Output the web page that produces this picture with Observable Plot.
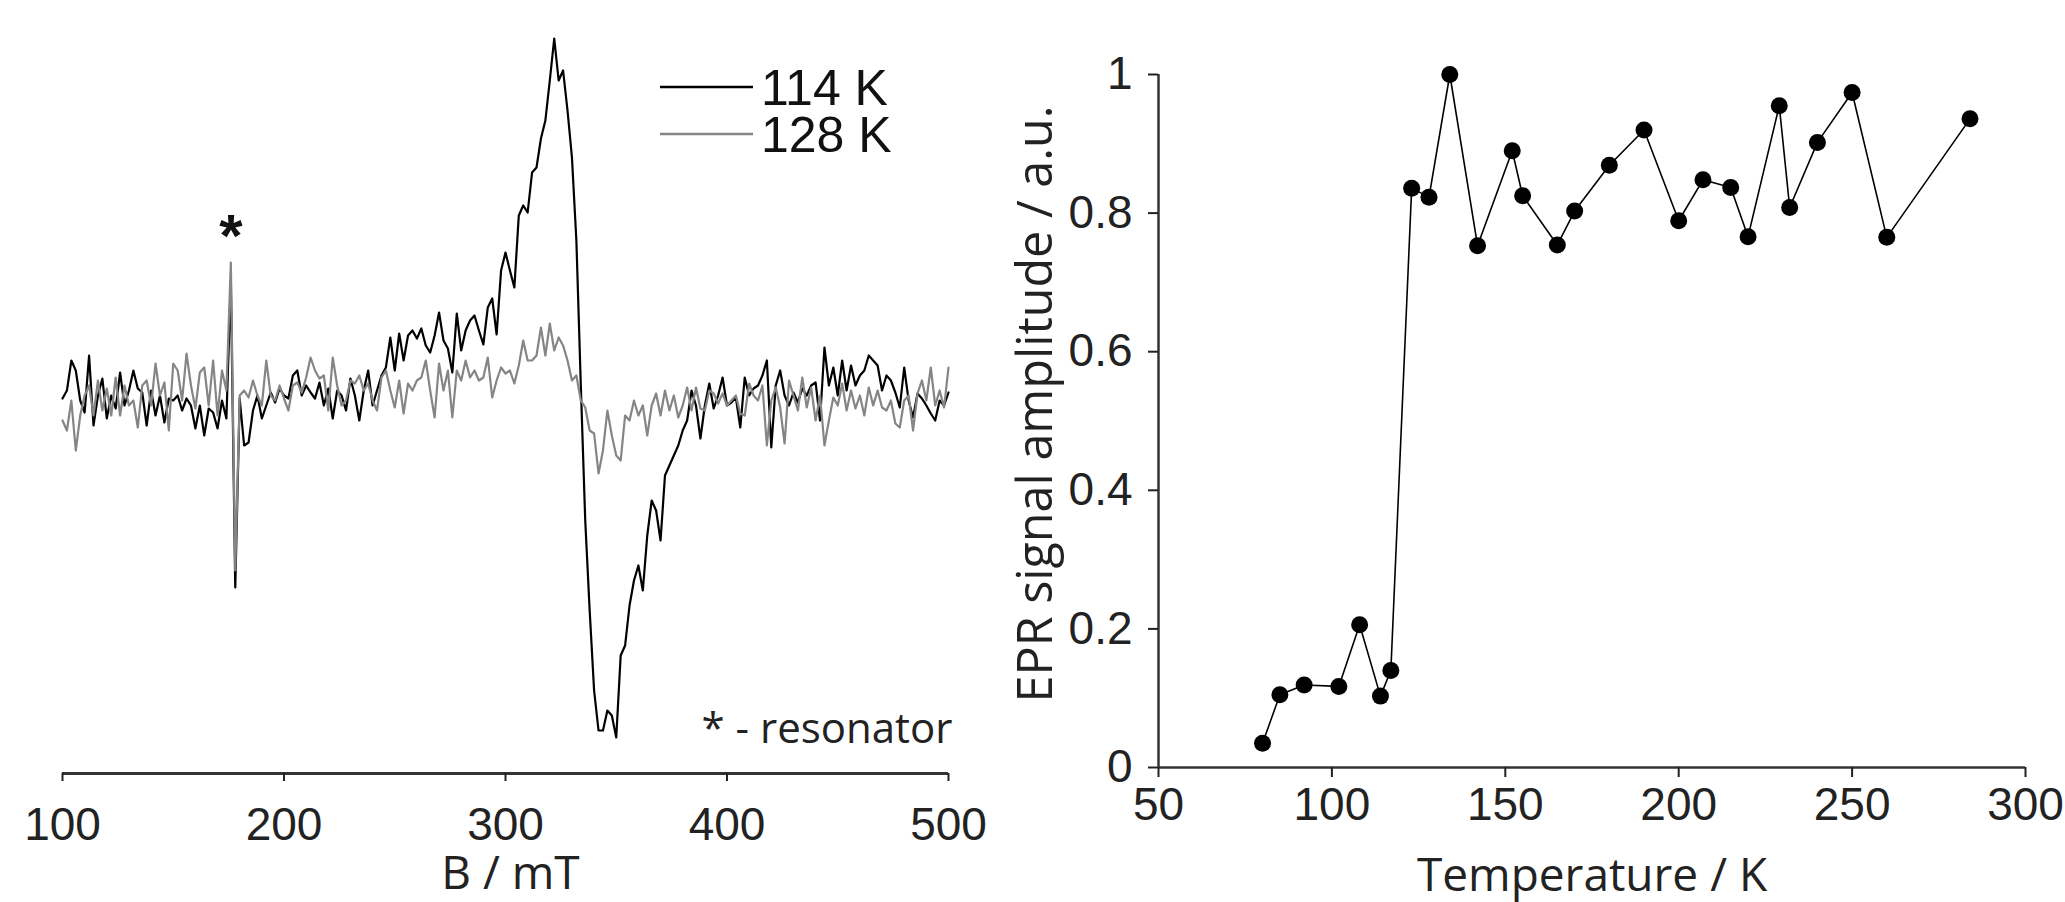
<!DOCTYPE html>
<html><head><meta charset="utf-8">
<script src="https://cdn.jsdelivr.net/npm/d3@7"></script>
<script src="https://cdn.jsdelivr.net/npm/@observablehq/plot@0.6"></script>
<style>
html,body{margin:0;padding:0;background:#fff;}
#wrap{position:relative;width:2065px;height:902px;overflow:hidden;background:#fff;}
.panel{position:absolute;top:0;}
</style></head><body>
<div id="wrap">
  <div id="left" class="panel" style="left:0px"></div>
  <div id="right" class="panel" style="left:1000px"></div>
  <div id="legend" class="panel" style="left:660px;top:60px"></div>
</div>
<script>
// ---------- Left panel: EPR spectra (B / mT) ----------
const fieldStart = 100, fieldStep = 2;
const fieldTicks = [100, 200, 300, 400, 500];
const signal114 = [
  0.02, 0.10, 0.40, 0.30, 0.00, -0.12, 0.45, -0.25, 0.05, 0.22,
  -0.18, 0.05, -0.08, 0.28, -0.05, 0.10, 0.30, 0.12, 0.08, -0.25,
  0.10, -0.15, 0.05, -0.22, 0.02, 0.00, 0.05, -0.10, 0.02, -0.05,
  -0.28, -0.05, -0.35, -0.08, -0.12, -0.28, 0.00, -0.18, 1.20, -1.87,
  0.02, -0.45, -0.42, -0.10, 0.05, -0.18, -0.05, 0.08, -0.02, 0.12,
  0.05, 0.02, 0.25, 0.30, 0.05, 0.15, 0.08, 0.02, 0.18, -0.05,
  0.12, -0.18, 0.10, 0.05, -0.10, 0.22, 0.05, -0.20, 0.10, 0.30,
  -0.05, 0.10, 0.25, 0.33, 0.63, 0.30, 0.67, 0.40, 0.65, 0.70,
  0.62, 0.72, 0.55, 0.48, 0.65, 0.88, 0.60, 0.52, 0.28, 0.87,
  0.50, 0.70, 0.80, 0.85, 0.70, 0.56, 0.93, 1.02, 0.66, 1.30,
  1.48, 1.30, 1.13, 1.85, 1.95, 1.88, 2.28, 2.33, 2.62, 2.80,
  3.20, 3.62, 3.20, 3.30, 2.90, 2.43, 1.60, 0.15, -1.20, -2.10,
  -2.90, -3.30, -3.30, -3.10, -3.15, -3.37, -2.55, -2.45, -2.05, -1.80,
  -1.65, -1.90, -1.35, -1.00, -1.10, -1.40, -0.75, -0.65, -0.55, -0.45,
  -0.30, -0.20, 0.10, -0.05, -0.38, -0.05, 0.17, -0.08, 0.05, 0.23,
  -0.05, -0.02, 0.03, -0.27, 0.23, 0.05, 0.12, 0.15, 0.25, 0.40,
  -0.47, 0.15, 0.30, 0.05, -0.05, 0.08, -0.02, 0.12, 0.05, 0.15,
  0.18, -0.20, 0.53, 0.15, 0.33, 0.05, 0.40, 0.10, 0.35, 0.15,
  0.25, 0.30, 0.45, 0.40, 0.35, 0.10, 0.25, 0.20, 0.08, -0.07,
  0.33, 0.00, -0.17, 0.07, 0.02, -0.05, -0.13, -0.20, 0.00, -0.05,
  0.08
];
const signal128 = [
  -0.20, -0.30, 0.00, -0.50, -0.15, 0.05, 0.15, -0.15, 0.20, -0.10,
  0.12, -0.15, 0.23, -0.15, 0.15, -0.05, 0.00, -0.27, 0.15, 0.20,
  -0.05, 0.37, 0.05, 0.18, -0.30, 0.37, 0.30, 0.00, 0.47, 0.15,
  -0.08, 0.28, 0.33, -0.05, 0.40, -0.15, 0.30, 0.10, 1.38, -1.70,
  0.05, 0.10, 0.03, 0.20, 0.05, -0.05, 0.40, 0.05, 0.00, 0.15,
  0.02, -0.10, 0.15, 0.18, 0.08, 0.23, 0.43, 0.30, 0.22, 0.25,
  -0.10, 0.43, 0.15, -0.05, 0.00, 0.20, 0.17, 0.25, 0.10, 0.17,
  0.00, -0.10, 0.23, 0.30, 0.10, -0.07, 0.20, -0.13, 0.17, 0.10,
  0.20, 0.23, 0.40, 0.10, -0.17, 0.37, 0.10, 0.30, -0.17, 0.30,
  0.20, 0.40, 0.23, 0.30, 0.20, 0.23, 0.43, 0.03, 0.20, 0.33,
  0.27, 0.30, 0.17, 0.35, 0.60, 0.40, 0.40, 0.45, 0.73, 0.45,
  0.77, 0.50, 0.63, 0.55, 0.40, 0.20, 0.25, 0.00, -0.07, -0.30,
  -0.33, -0.73, -0.50, -0.10, -0.35, -0.55, -0.60, -0.15, -0.20, 0.00,
  -0.15, -0.05, -0.35, -0.05, 0.07, -0.15, 0.10, -0.10, 0.05, -0.17,
  -0.05, 0.13, -0.10, 0.13, -0.08, -0.10, 0.10, 0.07, -0.03, 0.07,
  -0.05, 0.00, 0.05, -0.13, -0.15, 0.17, 0.05, 0.00, 0.15, -0.45,
  0.00, 0.13, -0.07, -0.43, 0.20, 0.05, -0.10, 0.23, -0.07, 0.13,
  -0.20, 0.05, -0.45, -0.20, 0.03, -0.05, 0.17, -0.10, 0.10, -0.08,
  0.05, -0.15, 0.13, -0.05, 0.10, -0.07, -0.10, 0.00, -0.23, -0.27,
  0.00, 0.05, -0.30, 0.07, 0.20, 0.00, 0.33, -0.05, 0.10, -0.07,
  0.33
];
const seriesLabels = ["114 K", "128 K"];
const seriesColors = ["#000000", "#858585"];
const resonatorField = 176;
const resonatorNote = "* - resonator";
const fieldTitle = "B / mT";

// ---------- Right panel: amplitude vs temperature ----------
const temperature = [80, 85, 92, 102, 108, 114, 117, 123, 128, 134, 142, 152, 155, 165, 170, 180, 190, 200, 207, 215, 220, 229, 232, 240, 250, 260, 284];
const amplitude = [0.035, 0.105, 0.119, 0.117, 0.206, 0.103, 0.140, 0.836, 0.823, 1.000, 0.753, 0.890, 0.825, 0.754, 0.803, 0.869, 0.920, 0.789, 0.848, 0.837, 0.766, 0.955, 0.808, 0.902, 0.974, 0.765, 0.936];
const tempTicks = [50, 100, 150, 200, 250, 300];
const ampTicks = [0, 0.2, 0.4, 0.6, 0.8, 1];
const tempTitle = "Temperature / K";
const ampTitle = "EPR signal amplitude / a.u.";

const tickFont = "'Liberation Sans', Arial, sans-serif";
const titleFont = "'Open Sans', 'Noto Sans', sans-serif";
const ink = "#222";

const rows114 = signal114.map((v, i) => ({B: fieldStart + i * fieldStep, v}));
const rows128 = signal128.map((v, i) => ({B: fieldStart + i * fieldStep, v}));
const spikeTop = signal128[(resonatorField - fieldStart) / fieldStep];
const sigDomain = [-3.73, 4.0];

const left = Plot.plot({
  width: 1000, height: 902,
  marginLeft: 62, marginRight: 52, marginTop: 0, marginBottom: 129,
  x: {domain: [fieldTicks[0], fieldTicks[fieldTicks.length - 1]], axis: null, label: null},
  y: {domain: sigDomain, axis: null, label: null},
  style: {background: "transparent", fontFamily: tickFont, fontSize: "46px", color: ink, overflow: "visible"},
  marks: [
    Plot.ruleY([sigDomain[0]], {stroke: "#333", strokeWidth: 3}),
    Plot.axisX(fieldTicks, {tickSize: 8, tickPadding: 26, strokeWidth: 2, label: null, fontSize: 46}),
    Plot.line(rows114, {x: "B", y: "v", stroke: seriesColors[0], strokeWidth: 2.2}),
    Plot.line(rows128, {x: "B", y: "v", stroke: seriesColors[1], strokeWidth: 2.2}),
    Plot.text([{B: resonatorField, v: spikeTop}], {x: "B", y: "v", text: () => "*", lineAnchor: "bottom", dy: -7, fontSize: 60, fontWeight: "bold", fill: "#111"}),
    Plot.text([resonatorNote], {frameAnchor: "bottom-right", textAnchor: "end", lineAnchor: "bottom", dx: 4, dy: -31, fontFamily: titleFont, fontSize: 42, fill: ink}),
    Plot.text([fieldTitle], {frameAnchor: "bottom", textAnchor: "middle", lineAnchor: "bottom", dx: 5, dy: 115, fontFamily: titleFont, fontSize: 46, fill: ink})
  ]
});
document.getElementById("left").appendChild(left);

const tempRows = temperature.map((T, i) => ({T, A: amplitude[i]}));
const right = Plot.plot({
  width: 1065, height: 902,
  marginLeft: 158, marginRight: 40, marginTop: 74, marginBottom: 135,
  x: {domain: [tempTicks[0], tempTicks[tempTicks.length - 1]], axis: null, label: null},
  y: {domain: [ampTicks[0], ampTicks[ampTicks.length - 1]], axis: null, label: null},
  style: {background: "transparent", fontFamily: tickFont, fontSize: "46px", color: ink, overflow: "visible"},
  marks: [
    Plot.ruleY([ampTicks[0]], {stroke: "#333", strokeWidth: 2.5}),
    Plot.ruleX([tempTicks[0]], {stroke: "#333", strokeWidth: 2.5}),
    Plot.axisX(tempTicks, {tickSize: 10, tickPadding: 10, strokeWidth: 2, label: null, fontSize: 46}),
    Plot.axisY(ampTicks, {tickSize: 10, tickPadding: 16, strokeWidth: 2, label: null, fontSize: 46, tickFormat: d3.format("~g")}),
    Plot.line(tempRows, {x: "T", y: "A", stroke: "#000", strokeWidth: 1.6}),
    Plot.dot(tempRows, {x: "T", y: "A", r: 8.5, fill: "#000"}),
    Plot.text([tempTitle], {frameAnchor: "bottom", textAnchor: "middle", lineAnchor: "bottom", dy: 123, fontFamily: titleFont, fontSize: 46, fill: ink}),
    Plot.text([ampTitle], {frameAnchor: "left", textAnchor: "middle", rotate: -90, lineAnchor: "top", dx: -141, dy: -17, fontFamily: titleFont, fontSize: 48.5, fill: ink})
  ]
});
document.getElementById("right").appendChild(right);

// ---------- Legend (inside left panel) ----------
const leg = d3.select("#legend").append("svg").attr("width", 300).attr("height", 130)
  .style("font-family", tickFont).style("font-size", "50px");
seriesLabels.forEach((lab, i) => {
  const y = 27 + i * 47;
  leg.append("line").attr("x1", 0).attr("x2", 93).attr("y1", y).attr("y2", y)
    .attr("stroke", seriesColors[i]).attr("stroke-width", 2.5);
  leg.append("text").attr("x", 101).attr("y", y + 18).attr("fill", "#111").text(lab);
});
</script>
</body></html>
